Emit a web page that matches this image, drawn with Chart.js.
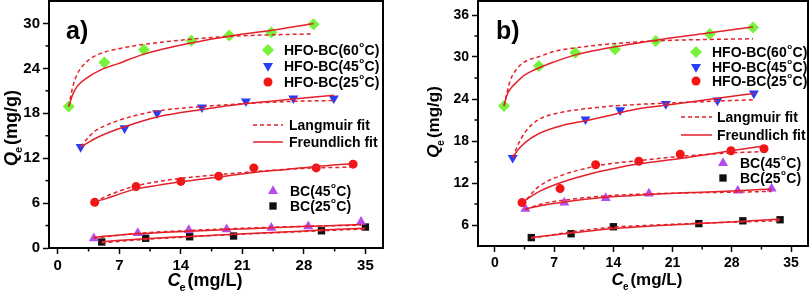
<!DOCTYPE html>
<html lang="en">
<head>
  <meta charset="UTF-8" />
  <title>Adsorption isotherms</title>
  <style>
    body { margin: 0; background: #fff; }
    #wrap { position: relative; width: 810px; height: 293px; overflow: hidden; }
    canvas { position: absolute; top: 0; }
  </style>
  <script src="https://cdn.jsdelivr.net/npm/chart.js"></script>
</head>
<body>
  <div id="wrap">
    <canvas id="chartA" width="405" height="293" style="left:0"></canvas>
    <canvas id="chartB" width="405" height="293" style="left:405px"></canvas>
  </div>

  <script>
    // ---- panel a) measured points ----
    const a60x = [1.25, 5.3, 9.8, 15.2, 19.5, 24.3, 29.1];
    const a60y = [18.9, 24.8, 26.5, 27.7, 28.4, 28.8, 29.9];
    const a45x = [2.6, 7.6, 11.3, 16.4, 21.4, 26.8, 31.4];
    const a45y = [13.5, 16.0, 18.0, 18.8, 19.6, 20.0, 20.0];
    const a25x = [4.2, 8.9, 14.0, 18.3, 22.3, 29.4, 33.6];
    const a25y = [6.1, 8.2, 8.9, 9.6, 10.7, 10.7, 11.2];
    const aBC45x = [4.1, 9.1, 14.9, 19.2, 24.3, 28.5, 34.5];
    const aBC45y = [1.3, 2.0, 2.4, 2.5, 2.7, 2.9, 3.5];
    const aBC25x = [5.0, 10.0, 15.0, 20.0, 30.0, 35.0];
    const aBC25y = [0.8, 1.3, 1.5, 1.6, 2.3, 2.8];

    // ---- panel a) fit curves (read off the figure) ----
    const a60fx = [1.25, 1.7, 2.2, 3.4, 4.9, 6.8, 9.8, 15.2, 20, 25, 29.1];
    const a60L = [18.9, 21.5, 23.2, 25.0, 26.0, 26.6, 27.2, 27.9, 28.3, 28.5, 28.6];
    const a60F = [18.9, 20.5, 21.6, 22.8, 23.8, 24.6, 25.9, 27.4, 28.4, 29.2, 30.0];
    const a45fx = [2.6, 3.2, 4.2, 5.5, 7.6, 11.3, 16.4, 21.4, 26.8, 31.4];
    const a45L = [13.5, 14.4, 15.6, 16.4, 17.3, 18.3, 18.9, 19.3, 19.6, 19.7];
    const a45F = [13.5, 13.9, 14.6, 15.3, 16.2, 17.5, 18.5, 19.3, 19.9, 20.4];
    const a25fx = [4.2, 5.5, 7, 8.9, 11.5, 14, 18.3, 22.3, 26, 29.4, 33.6];
    const a25L = [6.1, 6.9, 7.6, 8.3, 8.9, 9.3, 9.8, 10.2, 10.5, 10.7, 10.8];
    const a25F = [6.2, 6.6, 7.2, 7.9, 8.4, 8.85, 9.5, 10.1, 10.5, 10.9, 11.3];
    const aBC45fx = [4.1, 9, 15, 20, 25, 30, 34.5];
    const aBC45L = [1.3, 1.95, 2.35, 2.6, 2.8, 2.95, 3.05];
    const aBC45F = [1.45, 1.9, 2.25, 2.5, 2.75, 2.95, 3.15];
    const aBC25fx = [5, 10, 15, 20, 25, 30, 35];
    const aBC25L = [0.7, 1.15, 1.5, 1.8, 2.05, 2.3, 2.55];
    const aBC25F = [0.85, 1.25, 1.55, 1.85, 2.1, 2.4, 2.65];

    // ---- panel b) measured points ----
    const b60x = [1.07, 5.2, 9.5, 14.2, 19.0, 25.4, 30.5];
    const b60y = [23.0, 28.7, 30.6, 31.1, 32.3, 33.3, 34.2];
    const b45x = [2.1, 10.7, 14.8, 20.2, 26.3, 30.6];
    const b45y = [15.6, 21.1, 22.4, 23.3, 23.8, 24.8];
    const b25x = [3.2, 7.7, 11.9, 17.0, 21.9, 27.9, 31.8];
    const b25y = [9.2, 11.2, 14.6, 15.1, 16.1, 16.6, 16.9];
    const bBC45x = [3.6, 8.2, 13.1, 18.2, 28.7, 32.7];
    const bBC45y = [8.3, 9.2, 9.85, 10.5, 10.9, 11.2];
    const bBC25x = [4.3, 9.0, 14.0, 24.1, 29.3, 33.7];
    const bBC25y = [4.2, 4.75, 5.75, 6.2, 6.6, 6.75];

    // ---- panel b) fit curves ----
    const b60fx = [1.07, 1.4, 1.8, 2.4, 3.5, 5.1, 7, 9.5, 13, 19, 25, 30.5];
    const b60L = [23.0, 24.8, 26.6, 28.0, 29.3, 30.0, 30.8, 31.3, 31.8, 32.3, 32.5, 32.6];
    const b60F = [23.0, 24.5, 25.4, 26.2, 27.4, 28.4, 29.3, 30.3, 31.2, 32.4, 33.4, 34.3];
    const b45fx = [2.1, 2.7, 3.6, 5.1, 7.9, 10.7, 13, 16.5, 20.2, 26.3, 30.6];
    const b45L = [15.6, 17.4, 19.3, 21.0, 22.1, 22.6, 22.9, 23.2, 23.4, 23.7, 23.9];
    const b45F = [15.6, 16.7, 17.8, 19.0, 20.2, 20.9, 21.5, 22.5, 23.1, 24.1, 24.8];
    const b25fx = [3.2, 5.1, 7.9, 11.9, 13, 17, 21.9, 27.9, 31.8];
    const b25L = [8.9, 11.4, 13.1, 14.4, 14.65, 15.2, 15.8, 16.3, 16.5];
    const b25F = [9.2, 10.7, 12.1, 13.5, 13.8, 14.75, 15.5, 16.6, 17.3];
    const bBC45fx = [3.6, 5.5, 8.2, 13, 18.2, 23.5, 28.7, 32.7];
    const bBC45L = [8.2, 9.0, 9.55, 10.15, 10.45, 10.6, 10.7, 10.8];
    const bBC45F = [8.3, 8.8, 9.3, 9.95, 10.35, 10.65, 10.9, 11.15];
    const bBC25fx = [4.3, 9, 14, 19, 24.1, 29.3, 33.7];
    const bBC25L = [4.1, 5.0, 5.7, 6.0, 6.25, 6.45, 6.6];
    const bBC25F = [4.2, 4.85, 5.5, 5.9, 6.2, 6.55, 6.85];

    const xTicks = [0, 3.5, 7, 10.5, 14, 17.5, 21, 24.5, 28, 31.5, 35];
    const aYTicks = [0, 3, 6, 9, 12, 15, 18, 21, 24, 27, 30];
    const bYTicks = [6, 9, 12, 15, 18, 21, 24, 27, 30, 33, 36];

    const FONT = "'Liberation Sans', Arial, sans-serif";
    const RED_LINE = "#e5202a";
    const series = {
      s60: { label: ["HFO-BC(60", "C)"], color: "#76f23a", style: "rectRot", radius: 6, rot: 0 },
      s45: { label: ["HFO-BC(45", "C)"], color: "#2a3df2", style: "triangle", radius: 5.8, rot: 180 },
      s25: { label: ["HFO-BC(25", "C)"], color: "#f51414", style: "circle", radius: 4.5, rot: 0 },
      bc45: { label: ["BC(45", "C)"], color: "#b64cf0", style: "triangle", radius: 5.8, rot: 0 },
      bc25: { label: ["BC(25", "C)"], color: "#111111", style: "rect", radius: 5.2, rot: 0 }
    };

    function pts(xs, ys) { return xs.map((x, i) => ({ x: x, y: ys[i] })); }

    function pointSet(key, xs, ys) {
      const s = series[key];
      return {
        data: pts(xs, ys), showLine: false, order: 2,
        pointStyle: s.style, pointRadius: s.radius, pointRotation: s.rot,
        backgroundColor: s.color, borderColor: s.color, borderWidth: 0, pointHoverRadius: s.radius
      };
    }

    function fitSet(xs, ys, dashed) {
      return {
        data: pts(xs, ys), showLine: true, order: 1,
        borderColor: RED_LINE, borderWidth: 1.5, borderDash: dashed ? [4, 3] : [],
        pointRadius: 0, cubicInterpolationMode: "monotone", fill: false
      };
    }

    // superscript "o" degree mark like the original legend
    function drawDeg(ctx, parts, x, y, size) {
      ctx.font = `bold ${size}px ${FONT}`;
      ctx.fillText(parts[0], x, y);
      let cx = x + ctx.measureText(parts[0]).width + 0.5;
      ctx.font = `bold ${Math.round(size * 0.6)}px ${FONT}`;
      ctx.fillText("o", cx, y - size * 0.42);
      cx += ctx.measureText("o").width + 0.5;
      ctx.font = `bold ${size}px ${FONT}`;
      ctx.fillText(parts[1], cx, y);
    }

    function drawAxisLabel(ctx, sym, unit, x, y, size, rotate) {
      ctx.save();
      ctx.translate(x, y);
      if (rotate) ctx.rotate(-Math.PI / 2);
      const big = `italic bold ${size}px ${FONT}`;
      const sub = `bold ${Math.round(size * 0.6)}px ${FONT}`;
      const reg = `bold ${size}px ${FONT}`;
      ctx.font = big; const w1 = ctx.measureText(sym).width;
      ctx.font = sub; const w2 = ctx.measureText("e").width;
      ctx.font = reg; const w3 = ctx.measureText(unit).width;
      let cx = -(w1 + w2 + w3 + 1) / 2;
      ctx.textBaseline = "alphabetic";
      ctx.fillStyle = "#000";
      ctx.font = big; ctx.fillText(sym, cx, 0); cx += w1;
      ctx.font = sub; ctx.fillText("e", cx - 1, size * 0.3); cx += w2 + 1;
      ctx.font = reg; ctx.fillText(unit, cx, 0);
      ctx.restore();
    }

    const decorPlugin = {
      id: "decor",
      afterDraw(chart) {
        const p = chart.options.plugins.decor;
        const ctx = chart.ctx;
        const ca = chart.chartArea;
        ctx.save();
        // frame
        ctx.strokeStyle = "#000";
        ctx.lineWidth = 2;
        ctx.strokeRect(ca.left, ca.top, ca.right - ca.left, ca.bottom - ca.top);
        // minor ticks
        ctx.lineWidth = 1.5;
        const xs = chart.scales.x, ys = chart.scales.y;
        xTicks.forEach((v, i) => {
          if (i % 2 === 0) return;
          const px = xs.getPixelForValue(v);
          ctx.beginPath(); ctx.moveTo(px, ca.bottom); ctx.lineTo(px, ca.bottom + 3.5); ctx.stroke();
        });
        p.yTicks.forEach(v => {
          if (v % 6 === 0) return;
          const py = ys.getPixelForValue(v);
          ctx.beginPath(); ctx.moveTo(ca.left, py); ctx.lineTo(ca.left - 3.5, py); ctx.stroke();
        });
        // panel letter
        ctx.fillStyle = "#000";
        ctx.textBaseline = "alphabetic";
        ctx.font = `bold 25px ${FONT}`;
        ctx.fillText(p.letter, p.letterX, p.letterY);
        // axis titles
        drawAxisLabel(ctx, "C", "(mg/L)", p.xTitle[0], p.xTitle[1], p.titleSize, false);
        drawAxisLabel(ctx, "Q", "(mg/g)", p.yTitle[0], p.yTitle[1], p.titleSize, true);
        // legends
        ctx.textBaseline = "middle";
        p.legend.forEach(item => {
          ctx.fillStyle = "#000";
          if (item.line) {
            ctx.strokeStyle = RED_LINE;
            ctx.lineWidth = 1.5;
            ctx.setLineDash(item.line === "dash" ? [4, 3] : []);
            ctx.beginPath(); ctx.moveTo(item.x0, item.y); ctx.lineTo(item.x1, item.y); ctx.stroke();
            ctx.setLineDash([]);
            ctx.font = `bold 14px ${FONT}`;
            ctx.fillText(item.text, item.tx, item.y + 1);
          } else {
            const s = series[item.key];
            ctx.fillStyle = s.color;
            ctx.strokeStyle = s.color;
            Chart.helpers.drawPoint(ctx, { pointStyle: s.style, radius: s.radius, rotation: s.rot, borderWidth: 0 }, item.x0, item.y);
            ctx.fillStyle = "#000";
            drawDeg(ctx, s.label, item.tx, item.y + 1, 14);
          }
        });
        ctx.restore();
      }
    };

    function makePanel(id, cfg) {
      const isMajorX = v => Math.round(v * 10) % 70 === 0;
      new Chart(document.getElementById(id), {
        type: "scatter",
        data: { datasets: cfg.datasets },
        options: {
          responsive: false,
          animation: false,
          events: [],
          layout: { autoPadding: false, padding: { top: cfg.padTop, right: cfg.padRight, left: 0, bottom: 0 } },
          plugins: {
            legend: { display: false },
            tooltip: { enabled: false },
            decor: cfg.decor
          },
          scales: {
            x: {
              type: "linear", min: cfg.xMin, max: cfg.xMax,
              afterBuildTicks: s => { s.ticks = xTicks.map(v => ({ value: v })); },
              afterFit: s => { s.height = cfg.axisH; s.paddingLeft = 0; s.paddingRight = 0; },
              border: { display: true, color: "#000", width: 2 },
              grid: {
                drawOnChartArea: false, drawTicks: true, tickLength: 6, tickWidth: 1.5,
                tickColor: c => (c.tick && isMajorX(c.tick.value)) ? "#000" : "rgba(0,0,0,0)"
              },
              ticks: {
                autoSkip: false, maxRotation: 0, padding: 3, color: "#000",
                font: { family: FONT, size: cfg.tickSize, weight: "bold" },
                callback: v => isMajorX(v) ? String(v) : ""
              }
            },
            y: {
              type: "linear", min: cfg.yMin, max: cfg.yMax,
              afterBuildTicks: s => { s.ticks = cfg.decor.yTicks.map(v => ({ value: v })); },
              afterFit: s => { s.width = cfg.axisW; s.paddingTop = 0; s.paddingBottom = 0; },
              border: { display: true, color: "#000", width: 2 },
              grid: {
                drawOnChartArea: false, drawTicks: true, tickLength: 6, tickWidth: 1.5,
                tickColor: c => (c.tick && c.tick.value % 6 === 0) ? "#000" : "rgba(0,0,0,0)"
              },
              ticks: {
                autoSkip: false, padding: 3, color: "#000",
                font: { family: FONT, size: cfg.tickSize, weight: "bold" },
                callback: v => v % 6 === 0 ? String(v) : ""
              }
            }
          }
        },
        plugins: [decorPlugin]
      });
    }

    makePanel("chartA", {
      xMin: -1, xMax: 37, yMin: 0, yMax: 33, axisW: 49, axisH: 45, padTop: 1, padRight: 22, tickSize: 15,
      datasets: [
        pointSet("s60", a60x, a60y), pointSet("s45", a45x, a45y), pointSet("s25", a25x, a25y),
        pointSet("bc45", aBC45x, aBC45y), pointSet("bc25", aBC25x, aBC25y),
        fitSet(a60fx, a60L, true), fitSet(a60fx, a60F, false),
        fitSet(a45fx, a45L, true), fitSet(a45fx, a45F, false),
        fitSet(a25fx, a25L, true), fitSet(a25fx, a25F, false),
        fitSet(aBC45fx, aBC45L, true), fitSet(aBC45fx, aBC45F, false),
        fitSet(aBC25fx, aBC25L, true), fitSet(aBC25fx, aBC25F, false)
      ],
      decor: {
        yTicks: aYTicks, letter: "a)", letterX: 66, letterY: 39,
        titleSize: 18, xTitle: [205, 286], yTitle: [17, 128],
        legend: [
          { key: "s60", x0: 268, y: 50, tx: 284 },
          { key: "s45", x0: 268, y: 66, tx: 284 },
          { key: "s25", x0: 268, y: 82, tx: 284 },
          { line: "dash", text: "Langmuir fit", x0: 253, x1: 283, y: 125, tx: 289 },
          { line: "solid", text: "Freundlich fit", x0: 253, x1: 283, y: 142, tx: 289 },
          { key: "bc45", x0: 273, y: 191, tx: 290 },
          { key: "bc25", x0: 273, y: 206, tx: 290 }
        ]
      }
    });

    makePanel("chartB", {
      xMin: -2, xMax: 37, yMin: 3, yMax: 38, axisW: 73, axisH: 47, padTop: 1, padRight: 2, tickSize: 14,
      datasets: [
        pointSet("s60", b60x, b60y), pointSet("s45", b45x, b45y), pointSet("s25", b25x, b25y),
        pointSet("bc45", bBC45x, bBC45y), pointSet("bc25", bBC25x, bBC25y),
        fitSet(b60fx, b60L, true), fitSet(b60fx, b60F, false),
        fitSet(b45fx, b45L, true), fitSet(b45fx, b45F, false),
        fitSet(b25fx, b25L, true), fitSet(b25fx, b25F, false),
        fitSet(bBC45fx, bBC45L, true), fitSet(bBC45fx, bBC45F, false),
        fitSet(bBC25fx, bBC25F, false), fitSet(bBC25fx, bBC25L, true)
      ],
      decor: {
        yTicks: bYTicks, letter: "b)", letterX: 91, letterY: 39,
        titleSize: 17, xTitle: [242, 285], yTitle: [34, 122],
        legend: [
          { key: "s60", x0: 291, y: 52, tx: 307 },
          { key: "s45", x0: 291, y: 67, tx: 307 },
          { key: "s25", x0: 291, y: 81, tx: 307 },
          { line: "dash", text: "Langmuir fit", x0: 276, x1: 307, y: 117, tx: 312 },
          { line: "solid", text: "Freundlich fit", x0: 276, x1: 307, y: 135, tx: 312 },
          { key: "bc45", x0: 318, y: 163, tx: 335 },
          { key: "bc25", x0: 318, y: 178, tx: 335 }
        ]
      }
    });
  </script>
</body>
</html>
